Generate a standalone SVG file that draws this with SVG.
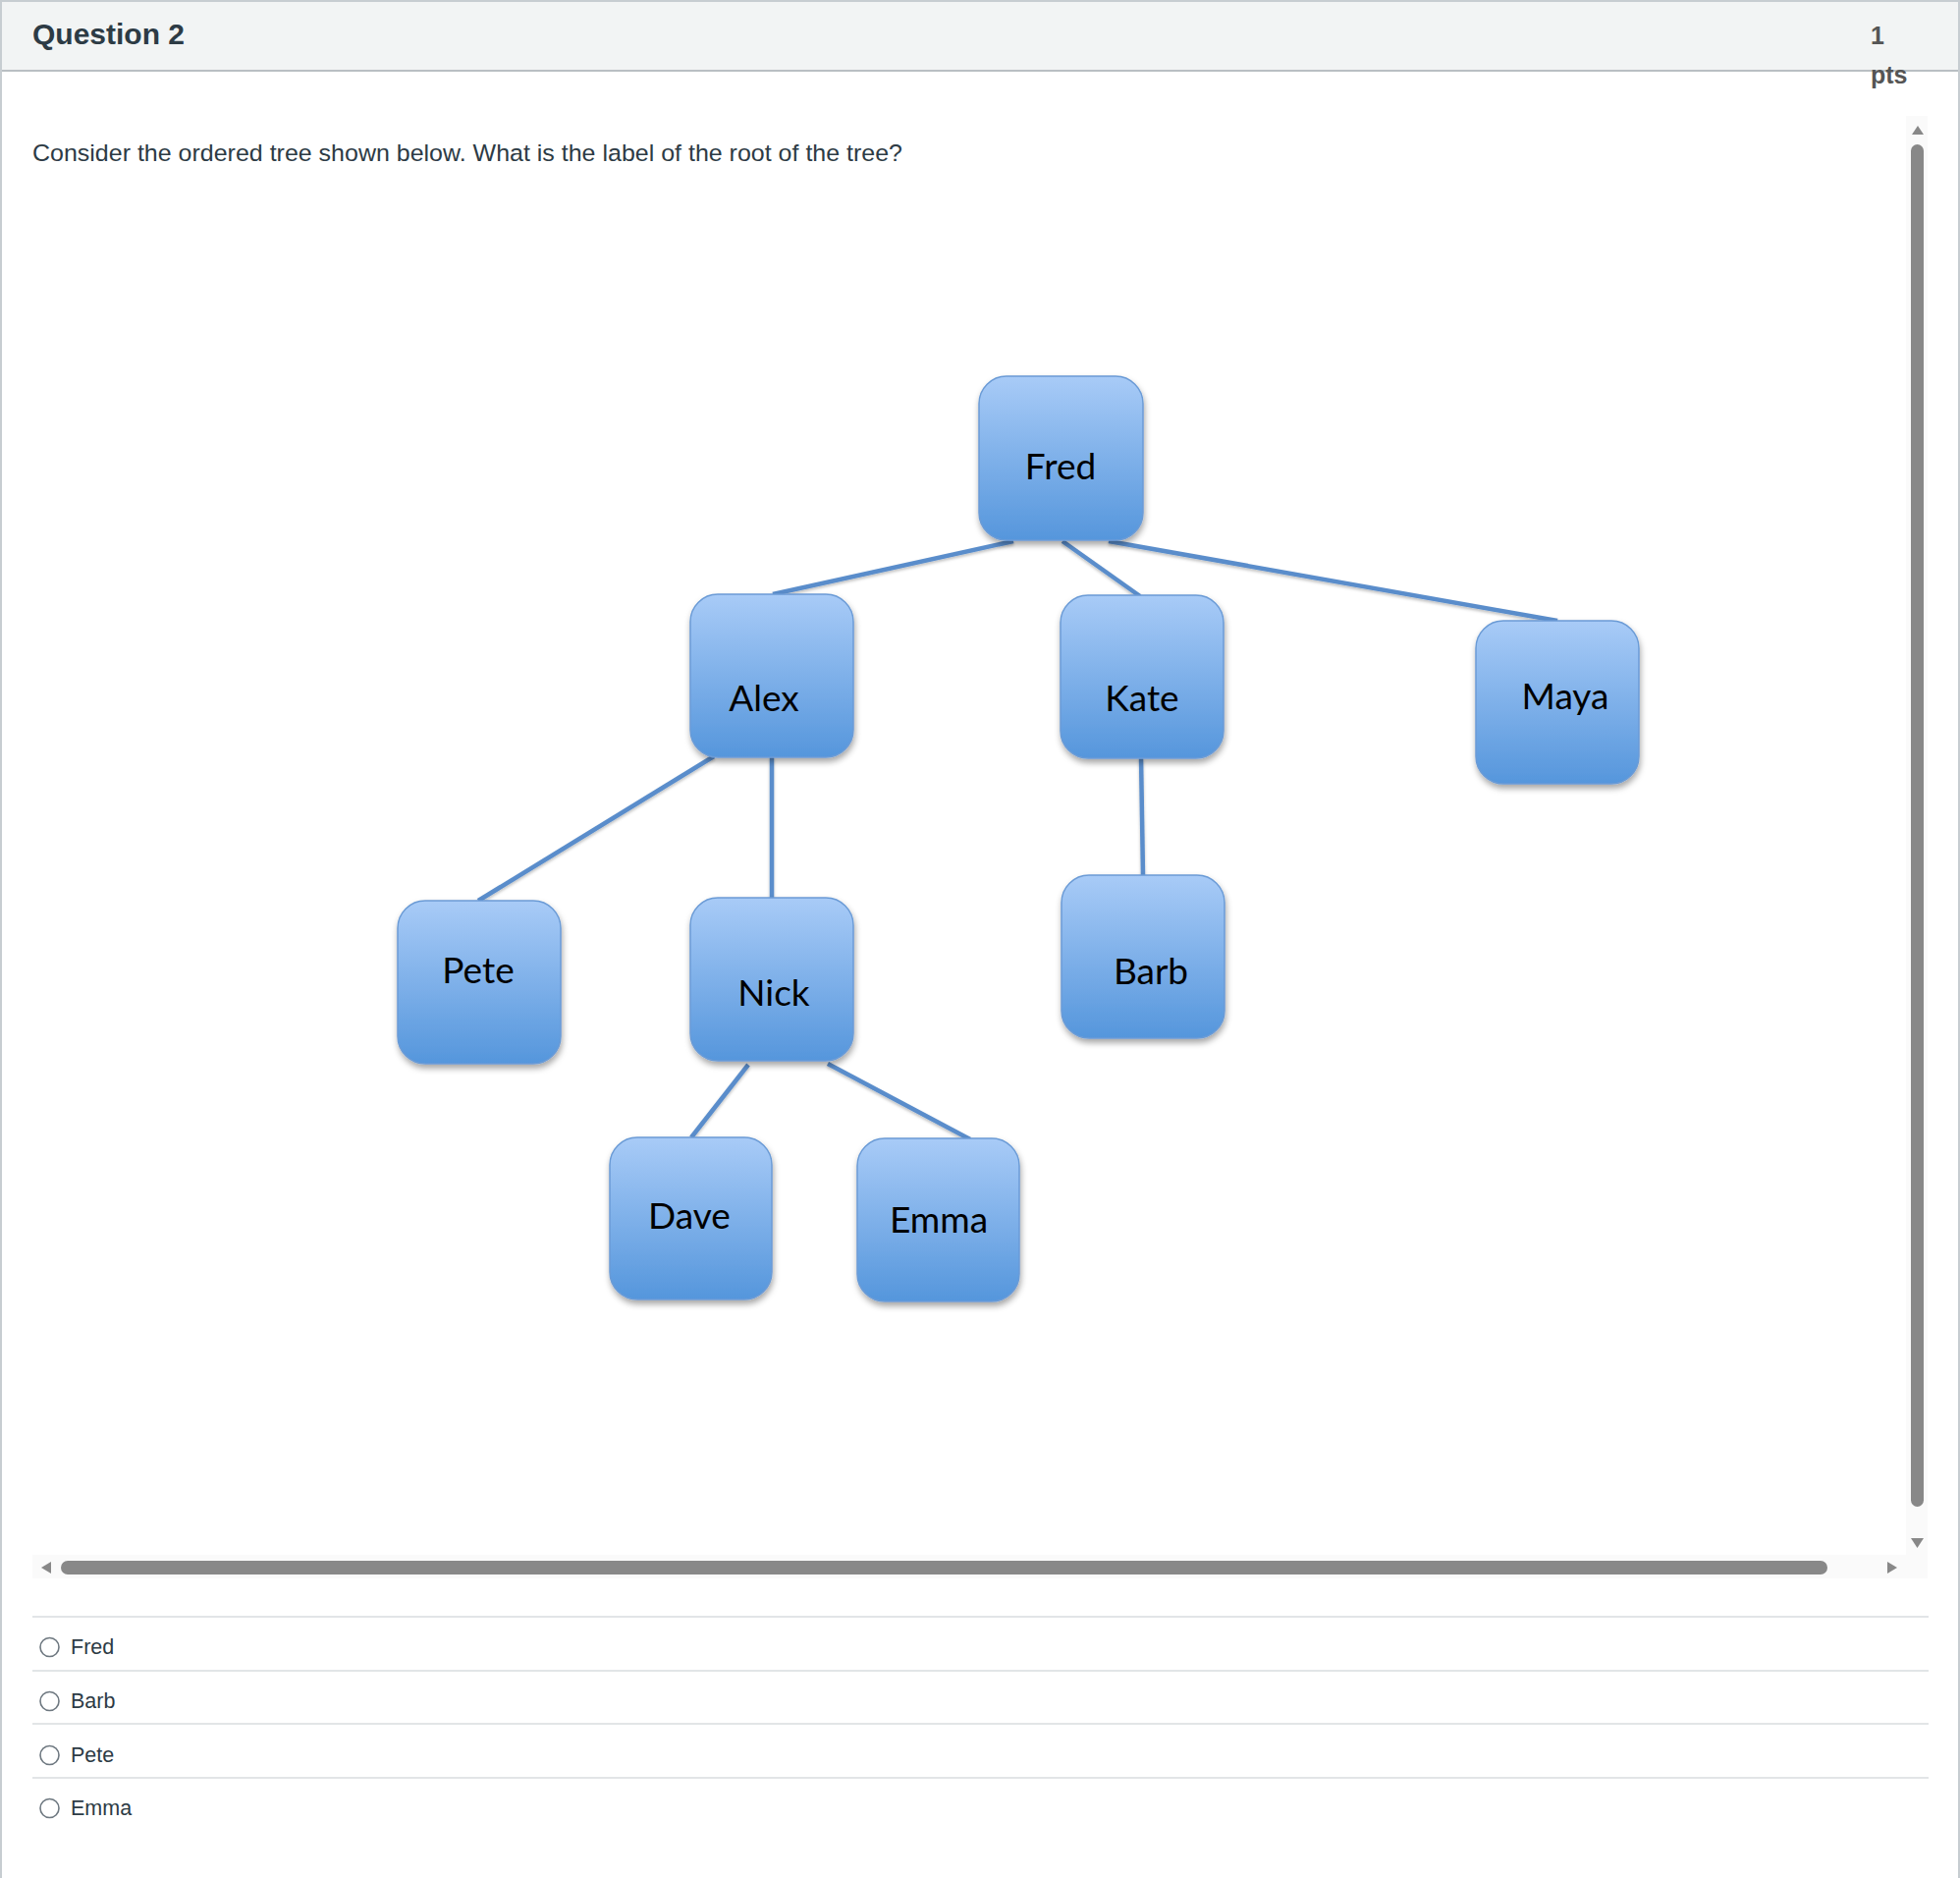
<svg xmlns="http://www.w3.org/2000/svg" width="1996" height="1912" viewBox="0 0 1996 1912">
<defs>
<linearGradient id="nodeGrad" x1="0" y1="0" x2="0" y2="1">
<stop offset="0" stop-color="#a8cbf7"/>
<stop offset="1" stop-color="#5596dc"/>
</linearGradient>
<filter id="shadow" x="-20%" y="-20%" width="140%" height="140%">
<feDropShadow dx="1" dy="4" stdDeviation="3" flood-color="#000" flood-opacity="0.35"/>
</filter>
<filter id="lshadow" x="-5%" y="-20%" width="110%" height="140%">
<feDropShadow dx="0" dy="2" stdDeviation="1.5" flood-color="#000" flood-opacity="0.25"/>
</filter>
</defs>
<style>
.ui{font-family:"Liberation Sans",Arial,Helvetica,sans-serif;}
.node rect{fill:url(#nodeGrad);stroke:#6b9bd6;stroke-width:1.5;filter:url(#shadow);}
.node text{font-family:Lato,"Open Sans","Liberation Sans",sans-serif;font-size:37px;fill:#000;text-anchor:middle;}
.edge{stroke:#5a8dcb;stroke-width:4.5;stroke-linecap:butt;fill:none;}
.sep{stroke:#e2e5e7;stroke-width:2;}
.radio{fill:#fff;stroke:#6e7880;stroke-width:1.6;}
.ans{font-size:21.5px;fill:#2d3b45;}
.sb{fill:#888888;}
</style>

<!-- page frame -->
<rect x="0" y="0" width="1996" height="1912" fill="#ffffff"/>
<rect x="1" y="1" width="1994" height="71" fill="#f2f4f4"/>
<line x1="0" y1="1" x2="1996" y2="1" stroke="#c7cdd1" stroke-width="2"/>
<line x1="0" y1="72" x2="1996" y2="72" stroke="#b9bfc3" stroke-width="2"/>
<line x1="1" y1="0" x2="1" y2="1912" stroke="#c7cdd1" stroke-width="2"/>
<line x1="1995" y1="0" x2="1995" y2="1912" stroke="#c7cdd1" stroke-width="2"/>

<g id="header" class="ui">
<text x="33" y="45" font-size="30" font-weight="bold" fill="#2d3b45">Question 2</text>
<text x="1905" y="45" font-size="25" font-weight="bold" fill="#555555">1</text>
<text x="1905" y="85" font-size="25" font-weight="bold" fill="#555555">pts</text>
<text x="33" y="164" font-size="24.5" fill="#2d3b45" textLength="886" lengthAdjust="spacingAndGlyphs">Consider the ordered tree shown below. What is the label of the root of the tree?</text>
</g>

<!-- scrollbars -->
<g id="scrollbars">
<rect x="1941" y="118" width="22" height="1489" fill="#fafafa"/>
<rect x="33" y="1583" width="1930" height="24" fill="#fafafa"/>
<polygon class="sb" points="1953,128 1959,137 1947,137"/>
<rect class="sb" x="1946" y="147" width="13" height="1387" rx="6.5"/>
<polygon class="sb" points="1946,1566 1959,1566 1952.5,1576"/>
<polygon class="sb" points="42,1596 52,1590 52,1602"/>
<rect class="sb" x="62" y="1589" width="1799" height="14" rx="7"/>
<polygon class="sb" points="1922,1590 1932,1596 1922,1602"/>
</g>

<!-- connectors -->
<g id="connectors" filter="url(#lshadow)">
<line class="edge" x1="1032" y1="551" x2="787" y2="605"/>
<line class="edge" x1="1082" y1="551" x2="1161" y2="607"/>
<line class="edge" x1="1129" y1="551" x2="1586" y2="632"/>
<line class="edge" x1="727" y1="770" x2="487" y2="917"/>
<line class="edge" x1="786" y1="770" x2="786" y2="914"/>
<line class="edge" x1="1162" y1="771" x2="1164" y2="891"/>
<line class="edge" x1="762" y1="1084" x2="704" y2="1158"/>
<line class="edge" x1="843" y1="1083" x2="988" y2="1160"/>
</g>

<!-- nodes -->
<g id="node-fred" class="node"><rect x="997" y="383" width="167" height="167" rx="28"/><text x="1080" y="488">Fred</text></g>
<g id="node-alex" class="node"><rect x="703" y="605" width="166" height="166" rx="28"/><text x="778" y="724">Alex</text></g>
<g id="node-kate" class="node"><rect x="1080" y="606" width="166" height="166" rx="28"/><text x="1163" y="724">Kate</text></g>
<g id="node-maya" class="node"><rect x="1503" y="632" width="166" height="166" rx="28"/><text x="1594" y="722">Maya</text></g>
<g id="node-pete" class="node"><rect x="405" y="917" width="166" height="166" rx="28"/><text x="487" y="1001">Pete</text></g>
<g id="node-nick" class="node"><rect x="703" y="914" width="166" height="166" rx="28"/><text x="788" y="1024">Nick</text></g>
<g id="node-barb" class="node"><rect x="1081" y="891" width="166" height="166" rx="28"/><text x="1172" y="1002">Barb</text></g>
<g id="node-dave" class="node"><rect x="621" y="1158" width="165" height="165" rx="28"/><text x="702" y="1251">Dave</text></g>
<g id="node-emma" class="node"><rect x="873" y="1159" width="165" height="166" rx="28"/><text x="956" y="1255">Emma</text></g>

<!-- answers -->
<g id="answers" class="ui">
<line class="sep" x1="33" y1="1646" x2="1964" y2="1646"/>
<line class="sep" x1="33" y1="1701" x2="1964" y2="1701"/>
<line class="sep" x1="33" y1="1755" x2="1964" y2="1755"/>
<line class="sep" x1="33" y1="1810" x2="1964" y2="1810"/>
<circle class="radio" cx="50.5" cy="1677" r="9.5"/>
<circle class="radio" cx="50.5" cy="1732" r="9.5"/>
<circle class="radio" cx="50.5" cy="1787" r="9.5"/>
<circle class="radio" cx="50.5" cy="1841" r="9.5"/>
<text class="ans" x="72" y="1684">Fred</text>
<text class="ans" x="72" y="1739">Barb</text>
<text class="ans" x="72" y="1794">Pete</text>
<text class="ans" x="72" y="1848">Emma</text>
</g>
</svg>
